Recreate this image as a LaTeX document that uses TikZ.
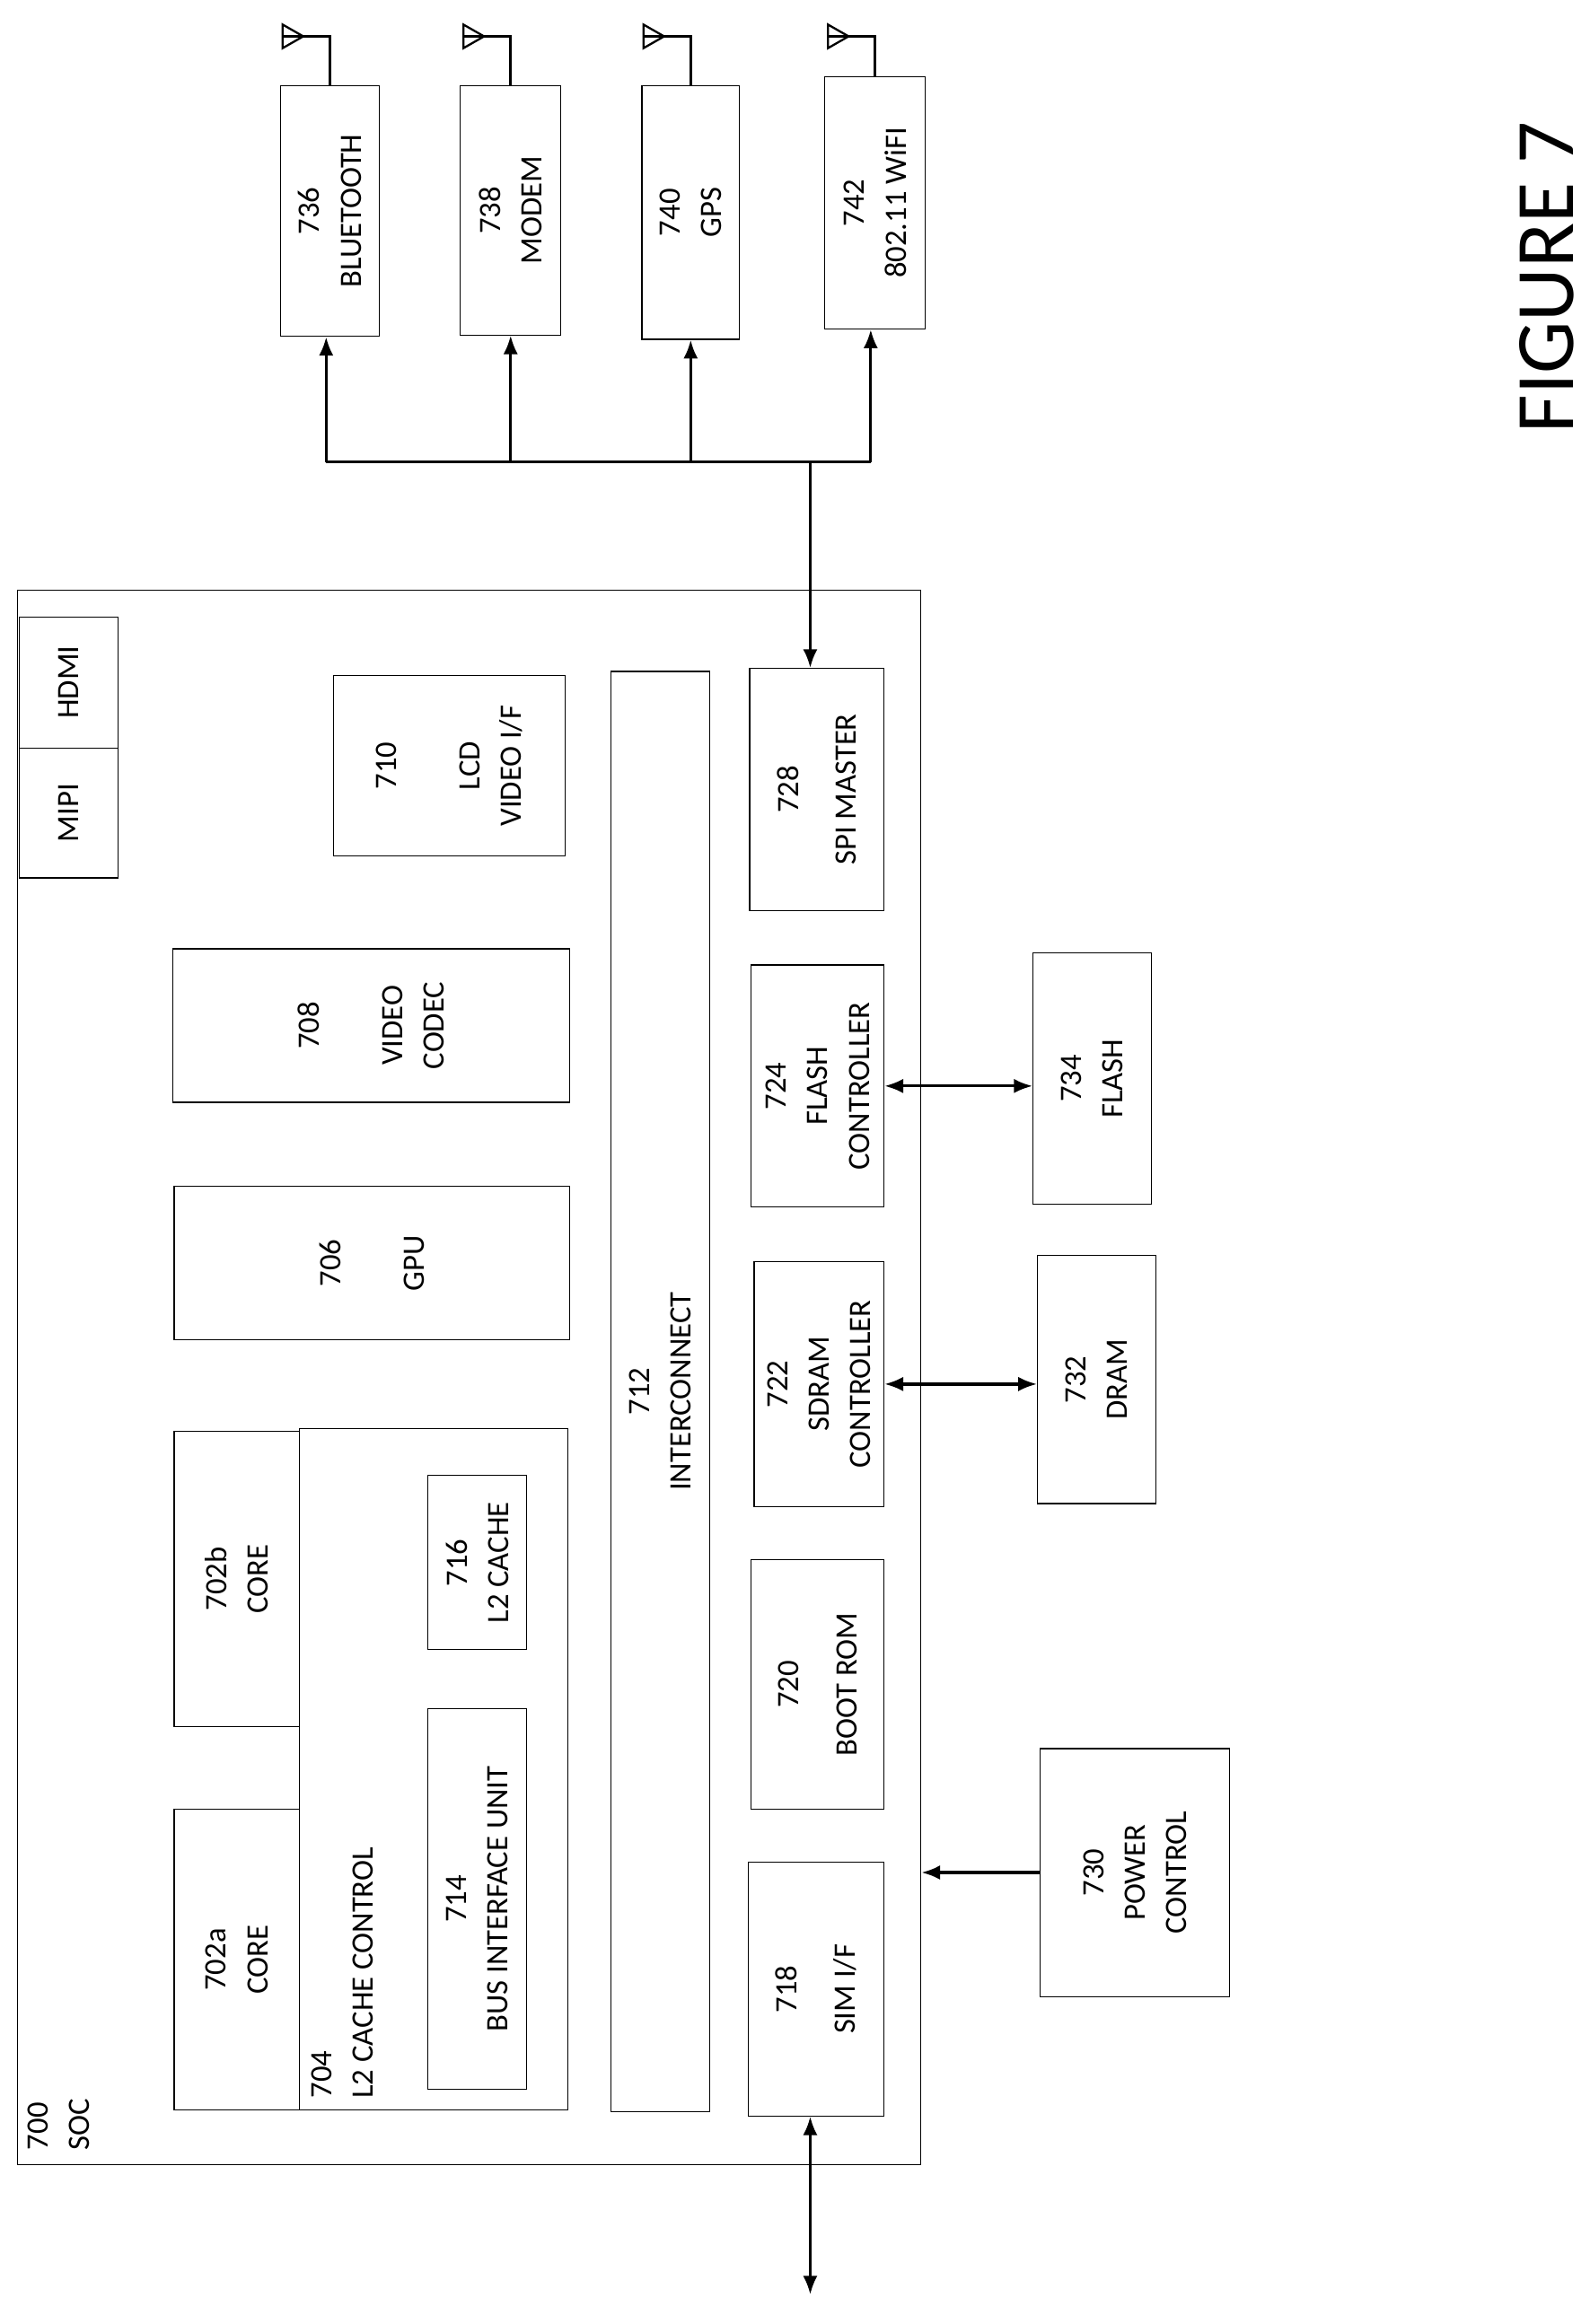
\documentclass[tikz,border=0pt]{standalone}
\usepackage{fontspec}
\setmainfont{Carlito}
\usetikzlibrary{fit,arrows.meta,calc}
\begin{document}
\begin{tikzpicture}[x=0.025cm,y=-0.025cm,
  box/.style={draw,line width=0.5pt,inner sep=0pt,fit=#1},
  lbl/.style={rotate=90,align=center,font=\fontsize{15}{20}\selectfont},
  arr/.style={line width=1.4pt,-{Latex[length=9pt,width=7pt]}},
  darr/.style={line width=1.4pt,{Latex[length=9pt,width=7pt]}-{Latex[length=9pt,width=7pt]}},
  ln/.style={line width=1.4pt}]
\useasboundingbox (0,0) rectangle (1077,1575);
\newcommand\bx[5]{\coordinate (#1-a) at (#2,#3); \coordinate (#1-b) at (#4,#5); \node[box=(#1-a)(#1-b)] (#1) {};}
\newcommand\ant[1]{\draw[line width=1.2pt] (#1.north) -- ++(0,-33) coordinate (#1-t) -- ++(-18,0) coordinate (#1-p) -- ++(-14,0) coordinate (#1-q);
  \draw[line width=1pt] (#1-p) -- ($(#1-q)+(0,-8)$) -- ($(#1-q)+(0,8)$) -- cycle;}
% SOC
\bx{soc}{12}{400}{624}{1467}
\node[lbl,anchor=north west,align=left] at (14,1462) {700\\SOC};
\bx{mipi}{13}{507}{80}{595}
\bx{hdmi}{13}{418}{80}{507}
\node[lbl] at (mipi) {MIPI};
\node[lbl] at (hdmi) {HDMI};
\bx{n710}{226}{458}{383}{580}
\node[lbl] at (n710) {710\\[20pt]LCD\\VIDEO I/F};
\bx{n708}{117}{643}{386}{747}
\node[lbl] at (n708) {708\\[20pt]VIDEO\\CODEC};
\bx{n706}{118}{804}{386}{908}
\node[lbl] at (n706) {706\\[20pt]GPU};
\bx{n702b}{118}{970}{203}{1170}
\node[lbl] at (n702b) {702b\\CORE};
\bx{n702a}{118}{1226}{203}{1430}
\node[lbl] at (n702a) {702a\\CORE};
\bx{n704}{203}{968}{385}{1430}
\node[lbl,anchor=north west,align=left] at (206,1427) {704\\L2 CACHE CONTROL};
\bx{n716}{290}{1000}{357}{1118}
\node[lbl] at (n716) {716\\L2 CACHE};
\bx{n714}{290}{1158}{357}{1416}
\node[lbl] at (n714) {714\\BUS INTERFACE UNIT};
\bx{n712}{414}{455}{481}{1431}
\node[lbl] at (n712) {712\\INTERCONNECT};
\bx{n728}{508}{453}{599}{617}
\node[lbl] at (n728) {728\\[8pt]SPI MASTER};
\bx{n724}{509}{654}{599}{818}
\node[lbl] at (n724) {724\\FLASH\\CONTROLLER};
\bx{n722}{511}{855}{599}{1021}
\node[lbl] at (n722) {722\\SDRAM\\CONTROLLER};
\bx{n720}{509}{1057}{599}{1226}
\node[lbl] at (n720) {720\\[8pt]BOOT ROM};
\bx{n718}{507}{1262}{599}{1434}
\node[lbl] at (n718) {718\\[8pt]SIM I/F};
% outside
\bx{n734}{700}{646}{780}{816}
\node[lbl] at (n734) {734\\FLASH};
\bx{n732}{703}{851}{783}{1019}
\node[lbl] at (n732) {732\\DRAM};
\bx{n730}{705}{1185}{833}{1353}
\node[lbl] at (n730) {730\\POWER\\CONTROL};
\bx{n736}{190}{58}{257}{228}
\node[lbl] at (n736) {736\\BLUETOOTH};
\bx{n738}{312}{58}{380}{227}
\node[lbl] at (n738) {738\\MODEM};
\bx{n740}{435}{58}{501}{230}
\node[lbl] at (n740) {740\\GPS};
\bx{n742}{559}{52}{627}{223}
\node[lbl] at (n742) {742\\802.11 WiFI};
\ant{n736}
\ant{n738}
\ant{n740}
\draw[line width=1.2pt] (n742.north) -- ++(0,-27) coordinate (n742-t) -- ++(-18,0) coordinate (n742-p) -- ++(-14,0) coordinate (n742-q);
\draw[line width=1pt] (n742-p) -- ($(n742-q)+(0,-8)$) -- ($(n742-q)+(0,8)$) -- cycle;
\node[rotate=90,font=\fontsize{40}{48}\selectfont] (fig) at (1048,188) {FIGURE 7};
% connectors
\draw[darr] (n724.east) -- (n724.east -| n734.west);
\draw[darr] (n722.east) -- (n722.east -| n732.west);
\draw[arr] (n730.west) -- (n730.west -| soc.east);
\coordinate (simend) at (549,1555);
\draw[darr] (simend |- n718.south) -- (simend);
\coordinate (busL) at (221,313);
\coordinate (busR) at (590,313);
\draw[ln] (busL) -- (busR);
\draw[arr] (busL) -- (busL |- n736.south);
\draw[arr] (n738.south |- busL) -- (n738.south);
\draw[arr] (n740.south |- busL) -- (n740.south);
\draw[arr] (busR) -- (busR |- n742.south);
\coordinate (spij) at (549,313);
\draw[arr] (spij) -- (spij |- n728.north);
\end{tikzpicture}
\end{document}
